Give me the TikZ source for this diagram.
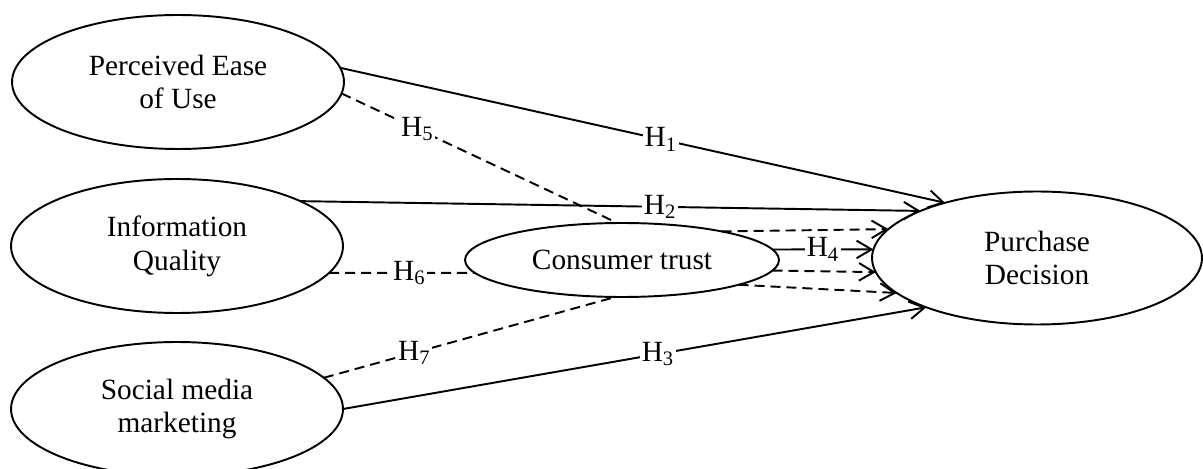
\documentclass[tikz,border=0pt]{standalone}
\usepackage{fontspec}
\setmainfont{Liberation Serif}
\usetikzlibrary{shapes.geometric,arrows.meta}
\begin{document}
\begin{tikzpicture}[x=0.02cm,y=-0.02cm,
  font=\fontsize{16.7}{19.3}\selectfont,
  construct/.style={draw, ellipse, line width=1.1pt, inner sep=0pt, outer sep=0pt, align=center, minimum width=6.64cm, minimum height=2.68cm},
  line/.style={line width=1.1pt},
  link/.style={line, -{Straight Barb[length=8.5pt,width=10pt,line width=1.1pt]}},
  dline/.style={line, dash pattern=on 5.7pt off 3.4pt},
  dlink/.style={link, dash pattern=on 5.7pt off 3.4pt},
  hyp/.style={fill=white, inner sep=1pt}
]
\useasboundingbox (0,0) rectangle (1203,469);
\clip (0,0) rectangle (1203,469);
\node[construct] (peu) at (178,82) {Perceived Ease\\of Use};
\node[construct] (iq) at (177,246) {Information\\Quality};
\node[construct] (smm) at (177,409) {Social media\\marketing};
\node[construct, minimum width=6.6cm, minimum height=2.66cm] (pd) at (1037,258) {Purchase\\Decision};
\node[construct, minimum width=6.28cm, minimum height=1.48cm] (ct) at (622,260) {Consumer trust};

\draw[link] (peu.5) -- node[hyp,pos=0.53]{H\textsubscript{1}} (pd.149);
\draw[link] (iq.20) -- node[hyp,pos=0.58]{H\textsubscript{2}} (pd.158);
\draw[link] (smm.0) -- node[hyp,pos=0.54]{H\textsubscript{3}} (pd.204);
\draw[link] (ct.4) -- node[hyp,pos=0.5]{H\textsubscript{4}} (pd.177);
\draw[dline] (peu.-4) -- node[hyp,pos=0.275]{H\textsubscript{5}} (ct.97);
\draw[dline] (iq.-10) -- node[hyp,pos=0.55]{H\textsubscript{6}} (ct.185);
\draw[dline] (smm.12) -- node[hyp,pos=0.31]{H\textsubscript{7}} (ct.260);
\draw[dlink] (ct.16) -- (pd.169);
\draw[dlink] (ct.-4) -- (pd.185);
\draw[dlink] (ct.-12) -- (pd.194);
\end{tikzpicture}
\end{document}
